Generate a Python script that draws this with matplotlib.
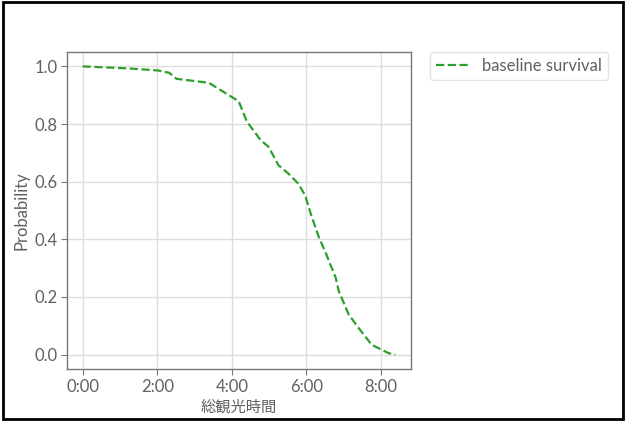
"""Baseline survival curve (Cox model) vs total sightseeing time."""

import matplotlib
matplotlib.use("Agg")
import matplotlib.pyplot as plt
from matplotlib.ticker import FuncFormatter, MultipleLocator
from matplotlib.patches import Rectangle

plt.rcParams["font.family"] = ["Lato", "Noto Sans CJK JP", "DejaVu Sans"]

# total sightseeing time (minutes) and baseline survival probability
time_min = [0, 74, 121, 139, 151, 203, 239, 251, 264, 286, 299, 315,
            331, 347, 358, 367, 380, 392, 396, 407, 412, 428, 444, 465,
            492, 503]
survival = [1.000, 0.993, 0.986, 0.978, 0.957, 0.943, 0.895, 0.879, 0.809,
            0.745, 0.721, 0.657, 0.628, 0.593, 0.552, 0.488, 0.407, 0.348,
            0.325, 0.267, 0.220, 0.139, 0.092, 0.034, 0.005, 0.000]

TEXT = "#606060"
SPINE = "#777777"
FS = 12

fig = plt.figure(figsize=(6.25, 4.21), dpi=100)
ax = fig.add_axes([0.1072, 0.1235, 0.5504, 0.753])

ax.plot(time_min, survival, linestyle="--", color="#2ca02c", linewidth=1.6,
        label="baseline survival")

ax.xaxis.set_major_locator(MultipleLocator(120))
ax.xaxis.set_major_formatter(FuncFormatter(lambda v, p: f"{int(v // 60)}:{int(v % 60):02d}"))
ax.set_yticks([0.0, 0.2, 0.4, 0.6, 0.8, 1.0])

ax.grid(True, color="#dddddd", linewidth=1.0)
ax.set_axisbelow(True)
for s in ax.spines.values():
    s.set_color(SPINE)
    s.set_linewidth(1.0)
ax.tick_params(colors=SPINE, labelcolor=TEXT, labelsize=FS, length=4, pad=3)

ax.set_xlabel("総観光時間", color=TEXT, fontsize=11, labelpad=4)
ax.set_ylabel("Probability", color=TEXT, fontsize=FS, labelpad=3)

leg = ax.legend(loc="upper left", bbox_to_anchor=(1.055, 1.0), borderaxespad=0,
                fontsize=FS, frameon=True, handlelength=2.0, borderpad=0.35)
leg.get_frame().set_edgecolor("#dddddd")
for t in leg.get_texts():
    t.set_color(TEXT)

# screenshot frame around the whole figure
fig.patches.append(Rectangle((0.004, 0.004), 0.992, 0.992, transform=fig.transFigure,
                             fill=False, edgecolor="black", linewidth=2))

fig.savefig("out.png", dpi=100)
